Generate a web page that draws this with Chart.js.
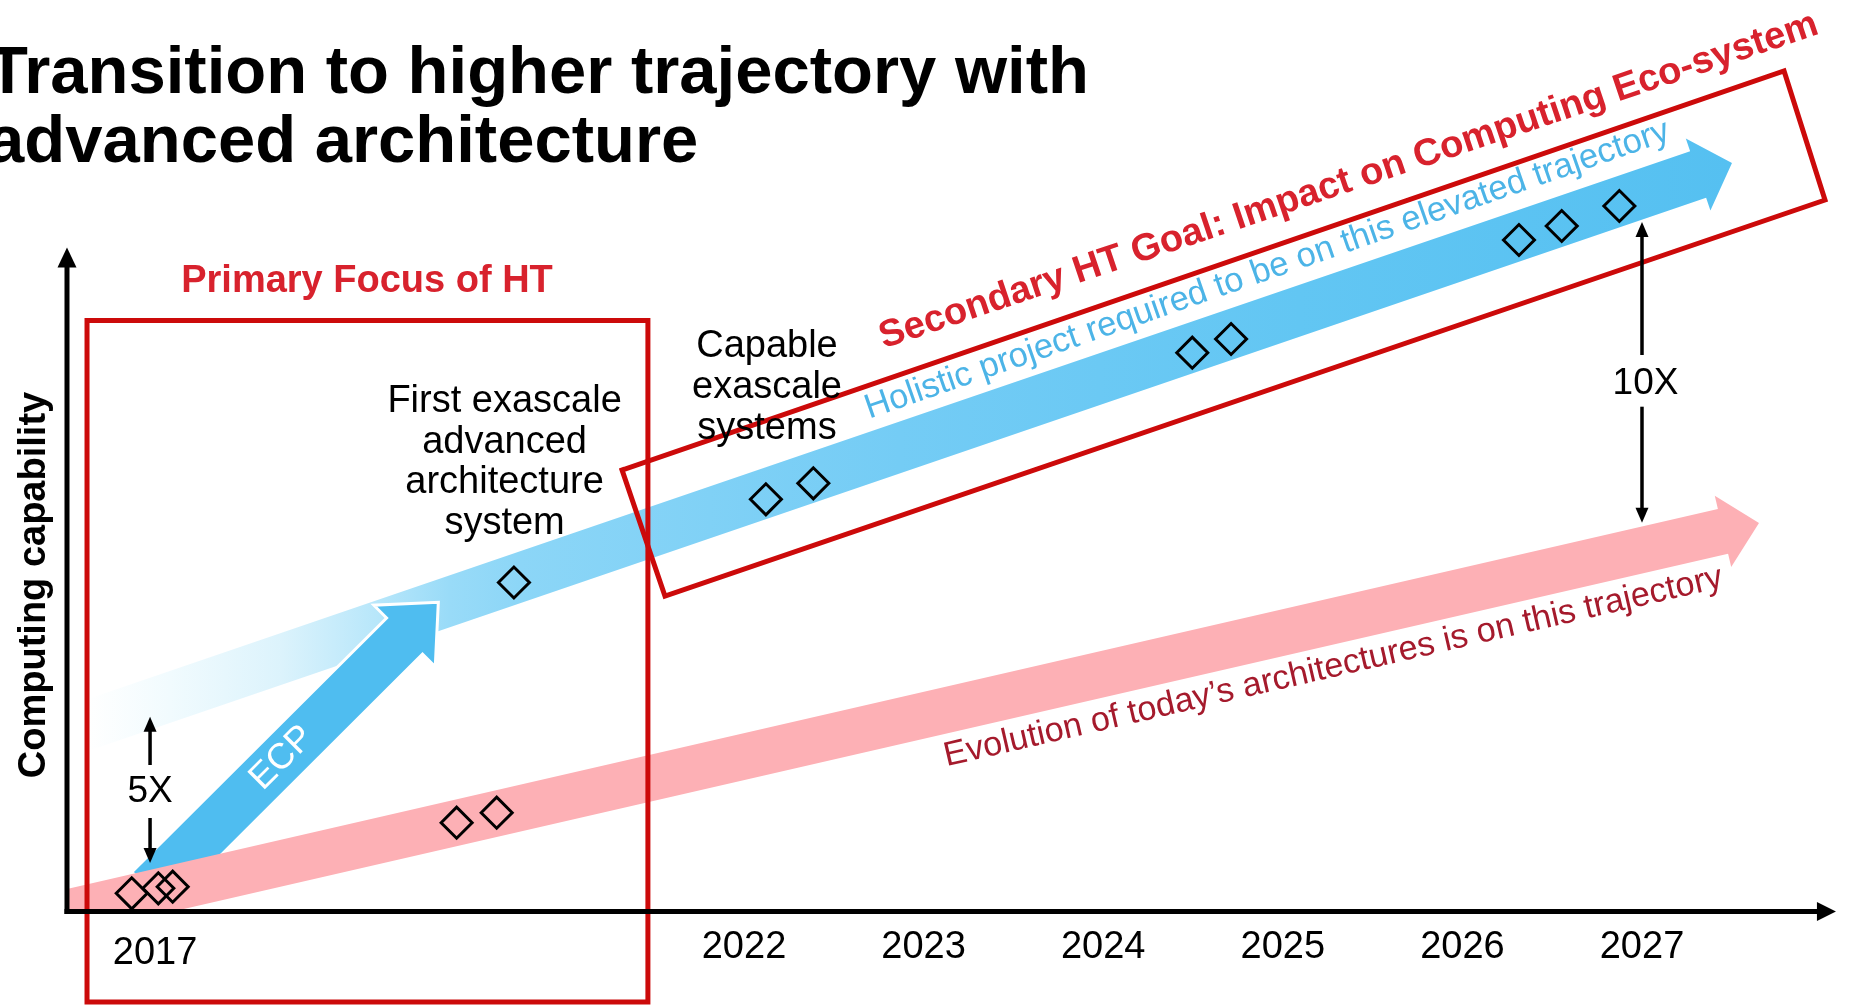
<!DOCTYPE html>
<html>
<head>
<meta charset="utf-8">
<title>Transition to higher trajectory with advanced architecture</title>
<script src="https://cdn.jsdelivr.net/npm/chart.js@4.4.0/dist/chart.umd.min.js"></script>
<style>
  html, body { margin: 0; padding: 0; background: #fff; overflow: hidden; }
  #wrap { width: 1849px; height: 1006px; position: relative; }
</style>
</head>
<body>
<div id="wrap"><canvas id="chart"></canvas></div>
<script>
// x = position on the timeline (year-like, the 2017 end is compressed), y = relative computing capability
const tickLabels = ['2017', '2022', '2023', '2024', '2025', '2026', '2027'];
const tickPos = [2018.721, 2022, 2023, 2024, 2025, 2026, 2027];

// systems on today's trajectory (pink) and on the elevated trajectory (blue)
const todaySystemsX = [2018.591, 2018.739, 2018.819, 2020.400, 2020.623];
const todaySystemsY = [0.182, 0.232, 0.248, 0.888, 0.988];
const exaSystemsX = [2020.719, 2022.122, 2022.386, 2024.496, 2024.712, 2026.315, 2026.553, 2026.874];
const exaSystemsY = [3.29, 4.122, 4.282, 5.588, 5.725, 6.715, 6.855, 7.055];

// trajectory outlines (band + arrow head)
const elevatedX = [2018.347, 2027.268, 2027.244, 2027.501, 2027.381, 2027.357, 2018.347, 2018.347];
const elevatedY = [2.124, 7.603, 7.730, 7.486, 7.010, 7.137, 1.604, 2.124];
const todayX = [2018.2305, 2018.2305, 2027.4226, 2027.4053, 2027.6514, 2027.4967, 2027.4794, 2018.820, 2018.2305];
const todayY = [0, 0.226, 4.024, 4.157, 3.885, 3.445, 3.578, 0, 0];
const ecpX = [2018.592, 2020.010, 2019.939, 2020.298, 2020.281, 2020.210, 2018.793, 2018.592];
const ecpY = [0.395, 2.935, 3.063, 3.092, 2.447, 2.575, 0.035, 0.395];

// focus boxes
const primaryBoxX = [2018.342, 2021.465, 2021.465, 2018.342, 2018.342];
const primaryBoxY = [5.91, 5.91, -0.905, -0.905, 5.91];
const secondaryBoxX = [2021.321, 2027.791, 2028.019, 2021.560, 2021.321];
const secondaryBoxY = [4.415, 8.405, 7.115, 3.155, 4.415];

// axes
const axisX0 = 2018.2305, axisXEnd = 2028.080, axisYTop = 6.639;

const FONT = "'Liberation Sans', Arial, Helvetica, sans-serif";
const RED = '#d8222d';
const BOX_RED = '#cc0a0a';

const zip = (xs, ys) => xs.map((x, i) => ({ x: x, y: ys[i] }));

// text annotations anchored in data coordinates
const notes = [
    { lines: ['Primary Focus of HT'], x: 2019.901, y: 6.195, font: 'bold 38px', color: RED },
    { lines: ['Computing capability'], x: 2018.108, y: 3.265, font: 'bold 38px', color: '#000', angle: -90 },
    { lines: ['First exascale', 'advanced', 'architecture', 'system'], x: 2020.667, y: 4.995, step: 0.405, font: '38px', color: '#000' },
    { lines: ['Capable', 'exascale', 'systems'], x: 2022.128, y: 5.545, step: 0.41, font: '38px', color: '#000' },
    { lines: ['5X'], x: 2018.693, y: 1.195, font: '37px', color: '#000', baseline: 'middle' },
    { lines: ['10X'], x: 2027.0195, y: 5.275, font: '37px', color: '#000', baseline: 'middle' },
    { lines: ['ECP'], x: 2019.428, y: 1.535, font: '36px', color: '#fff', baseline: 'middle', angle: -44.9 },
    { lines: ['Secondary HT Goal: Impact on Computing Eco-system'], x: 2025.385, y: 7.205, font: 'bold 38px', color: RED, angle: -18.6 },
    { lines: ['Holistic project required to be on this elevated trajectory'], x: 2024.931, y: 6.324, font: '34.5px', color: '#4cb4e7', angle: -19.2 },
    { lines: ['Evolution of today\u2019s architectures is on this trajectory'], x: 2025.293, y: 2.35, font: '34.3px', color: '#a51a2c', angle: -13 }
];

// double arrows (5X, 10X): [x, yFrom, yTo]
const arrows = [
    [2018.693, 1.465, 1.948],
    [2018.693, 0.935, 0.485],
    [2027, 5.565, 6.895],
    [2027, 5.048, 3.888]
];

function drawArrow(ctx, a, b, lw, headLen, headW, color) {
    const dx = b[0] - a[0], dy = b[1] - a[1];
    const len = Math.hypot(dx, dy);
    const ux = dx / len, uy = dy / len;
    const bx = b[0] - ux * headLen, by = b[1] - uy * headLen;
    ctx.strokeStyle = color;
    ctx.lineWidth = lw;
    ctx.lineCap = 'butt';
    ctx.beginPath();
    ctx.moveTo(a[0], a[1]);
    ctx.lineTo(bx + ux, by + uy);
    ctx.stroke();
    ctx.fillStyle = color;
    ctx.beginPath();
    ctx.moveTo(b[0], b[1]);
    ctx.lineTo(bx - uy * headW / 2, by + ux * headW / 2);
    ctx.lineTo(bx + uy * headW / 2, by - ux * headW / 2);
    ctx.closePath();
    ctx.fill();
}

const overlay = {
    id: 'overlay',
    beforeDraw(chart) {
        const c = chart.ctx;
        c.save();
        c.fillStyle = '#fff';
        c.fillRect(0, 0, chart.width, chart.height);
        c.restore();
    },
    afterDatasetsDraw(chart) {
        const c = chart.ctx;
        const sx = chart.scales.x, sy = chart.scales.y;
        const p = (x, y) => [sx.getPixelForValue(x), sy.getPixelForValue(y)];
        c.save();

        // axes with arrow heads
        const origin = p(axisX0, 0);
        drawArrow(c, [origin[0], origin[1] + 2.5], p(axisX0, axisYTop), 5, 20, 19, '#000');
        drawArrow(c, [origin[0] - 2.5, origin[1]], p(axisXEnd, 0), 5, 19, 19, '#000');

        arrows.forEach(a => drawArrow(c, p(a[0], a[1]), p(a[0], a[2]), 3.5, 15, 13, '#000'));

        // tick labels
        c.fillStyle = '#000';
        c.font = '38px ' + FONT;
        c.textAlign = 'center';
        c.textBaseline = 'alphabetic';
        tickLabels.forEach((t, i) => {
            const off = i === 0 ? 52 : 46;
            c.fillText(t, sx.getPixelForValue(tickPos[i]), origin[1] + off);
        });

        // annotations
        notes.forEach(n => {
            const [x, y] = p(n.x, n.y);
            c.save();
            c.translate(x, y);
            c.rotate((n.angle || 0) * Math.PI / 180);
            c.font = n.font + ' ' + FONT;
            c.fillStyle = n.color;
            c.textAlign = 'center';
            c.textBaseline = n.baseline || 'alphabetic';
            n.lines.forEach((line, i) => {
                const dy = i === 0 ? 0 : sy.getPixelForValue(n.y - i * n.step) - y;
                c.fillText(line, 0, dy);
            });
            c.restore();
        });

        // slide title (cut at the left edge, as on the slide)
        c.font = 'bold 67px ' + FONT;
        c.fillStyle = '#000';
        c.textAlign = 'left';
        c.textBaseline = 'alphabetic';
        c.fillText('Transition to higher trajectory with', -13, 93);
        c.fillText('advanced architecture', -13, 162);
        c.restore();
    }
};

function elevatedGradient(context) {
    const chart = context.chart;
    if (!chart.chartArea) return '#5ac3f2';
    const x0 = chart.scales.x.getPixelForValue(elevatedX[0]);
    const x1 = chart.scales.x.getPixelForValue(2027.501);
    const g = chart.ctx.createLinearGradient(x0, 0, x1, 0);
    g.addColorStop(0, 'rgba(255,255,255,1)');
    g.addColorStop(0.05, '#f1fbfe');
    g.addColorStop(0.117, '#dcf3fc');
    g.addColorStop(0.178, '#b6e6fa');
    g.addColorStop(0.22, '#99dbf8');
    g.addColorStop(0.263, '#8cd6f7');
    g.addColorStop(0.494, '#74ccf5');
    g.addColorStop(0.737, '#62c6f3');
    g.addColorStop(1, '#55c0f1');
    return g;
}

const shape = {
    showLine: true,
    fill: 'shape',
    pointRadius: 0,
    pointHoverRadius: 0,
    tension: 0,
    borderWidth: 0,
    borderColor: 'rgba(0,0,0,0)'
};

new Chart(document.getElementById('chart'), {
    type: 'scatter',
    data: {
        datasets: [
            { label: 'Elevated trajectory', data: zip(elevatedX, elevatedY), ...shape, backgroundColor: elevatedGradient, order: 10 },
            { label: 'ECP', data: zip(ecpX, ecpY), ...shape, backgroundColor: '#4fbdf0', borderColor: '#ffffff', borderWidth: 3, borderJoinStyle: 'miter', order: 9 },
            { label: "Today's trajectory", data: zip(todayX, todayY), ...shape, backgroundColor: '#fdb0b5', order: 8 },
            { label: 'Primary focus', data: zip(primaryBoxX, primaryBoxY), showLine: true, fill: false, pointRadius: 0, borderColor: BOX_RED, borderWidth: 5, borderJoinStyle: 'miter', borderCapStyle: 'square', order: 7 },
            { label: 'Secondary goal', data: zip(secondaryBoxX, secondaryBoxY), showLine: true, fill: false, pointRadius: 0, borderColor: BOX_RED, borderWidth: 5, borderJoinStyle: 'miter', borderCapStyle: 'square', order: 6 },
            { label: 'Systems (today)', data: zip(todaySystemsX, todaySystemsY), pointStyle: 'rectRot', pointRadius: 15.5, borderWidth: 3, borderColor: '#000', backgroundColor: 'rgba(0,0,0,0)', order: 2 },
            { label: 'Systems (elevated)', data: zip(exaSystemsX, exaSystemsY), pointStyle: 'rectRot', pointRadius: 15.5, borderWidth: 3, borderColor: '#000', backgroundColor: 'rgba(0,0,0,0)', order: 1 }
        ]
    },
    options: {
        responsive: true,
        maintainAspectRatio: false,
        animation: false,
        events: [],
        layout: { padding: 0, autoPadding: false },
        plugins: {
            legend: { display: false },
            title: { display: false },
            tooltip: { enabled: false }
        },
        scales: {
            x: { type: 'linear', min: 2017.8575, max: 2028.1526, display: false },
            y: { type: 'linear', min: -0.945, max: 9.115, display: false }
        }
    },
    plugins: [overlay]
});
</script>
</body>
</html>
